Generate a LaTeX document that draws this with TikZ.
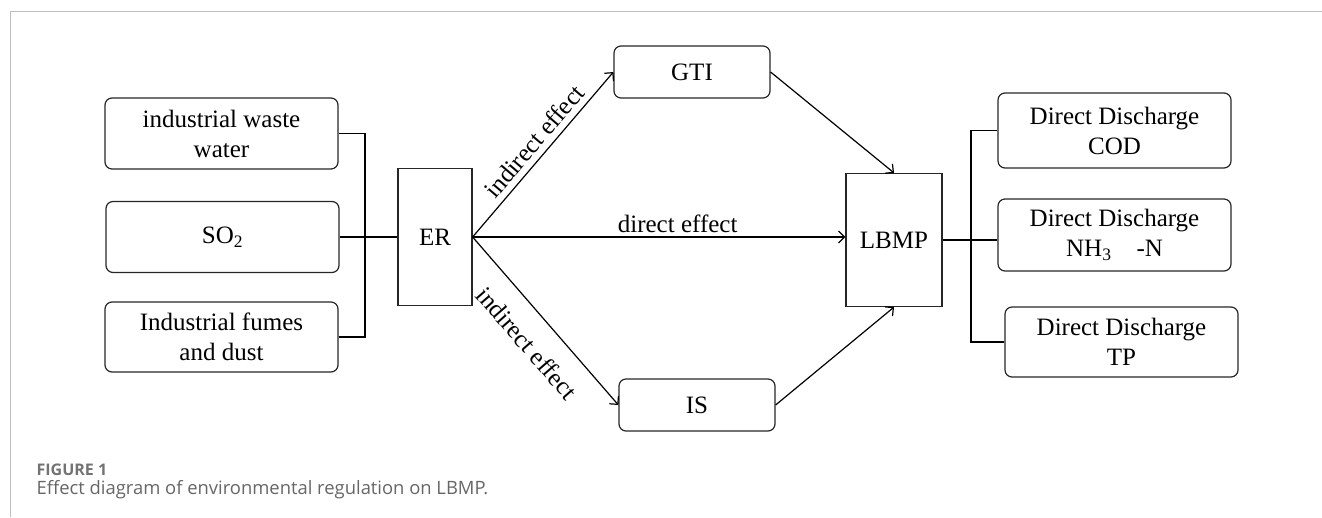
\documentclass[tikz,border=0pt]{standalone}
\usepackage{fontspec}
\setmainfont{Liberation Serif}
\newfontfamily\capfont{Open Sans}
\usetikzlibrary{positioning,arrows.meta}

\begin{document}
\begin{tikzpicture}[x=1pt, y=-1pt, line width=1.2pt, >={Straight Barb[length=6pt,width=12pt]},
		b/.style={draw=black!85, rounded corners=7pt, align=center, inner sep=0pt, font=\fontsize{25}{30}\selectfont},
		r/.style={draw=black!85, align=center, inner sep=0pt, font=\fontsize{25}{30}\selectfont},
		lab/.style={font=\fontsize{25}{30}\selectfont, inner sep=4pt}]
		\useasboundingbox (0,0) rectangle (1322,517);
		\draw[black!25, line width=1pt] (10,517) -- (10,11.5) -- (1322,11.5);

		% inputs
		\node[b, minimum width=233pt, minimum height=71pt] (ww) at (221.5,133.5) {industrial waste\\water};
		\node[b, minimum width=233pt, minimum height=71pt] (so) at (222.5,237) {SO\textsubscript{2}};
		\node[b, minimum width=233pt, minimum height=70pt] (fd) at (221.5,337) {Industrial fumes\\and dust};
		\node[r, minimum width=74pt, minimum height=137pt] (ER) at (435,237) {ER};

		% mediators
		\node[b, minimum width=156pt, minimum height=52pt] (GTI) at (692,72) {GTI};
		\node[b, minimum width=156pt, minimum height=52pt] (IS) at (697,405) {IS};
		\node[r, minimum width=96pt, minimum height=133pt] (LBMP) at (894,240) {LBMP};

		% outputs
		\node[b, minimum width=233pt, minimum height=75pt] (cod) at (1114.5,130.5) {Direct Discharge\\COD};
		\node[b, minimum width=233pt, minimum height=72pt] (nh) at (1114.5,235) {Direct Discharge\\NH\textsubscript{3}\quad-N};
		\node[b, minimum width=233pt, minimum height=70pt] (tp) at (1121.5,342) {Direct Discharge\\TP};

		\coordinate (lbus) at (365,0);
		\coordinate (rbus) at (971,0);
		\draw (ww.east) -- (ww.east -| lbus) -- (fd.east -| lbus) -- (fd.east);
		\draw (so.east) -- (ER.west);
		\draw (cod.west) -- (cod.west -| rbus) -- (tp.west -| rbus) -- (tp.west);
		\draw (LBMP.east) -- (LBMP.east -| nh.west);

		\draw[->] (ER.east) -- node[lab, pos=0.52, above, sloped, inner sep=6pt] {indirect effect} (GTI.west);
		\draw[->] (ER.east) -- node[lab, pos=0.52, below, sloped, inner sep=19pt] {indirect effect} (IS.west);
		\draw[->] (ER.east) -- node[lab, pos=0.55, above] {direct effect} (ER.east -| LBMP.west);
		\draw[->] (GTI.east) -- (LBMP.north);
		\draw[->] (IS.east) -- (LBMP.south);

		% caption
		\node[anchor=base west, inner sep=0pt, text=black!55, font=\capfont\bfseries\fontsize{16}{19}\selectfont] (fig) at (36,475) {FIGURE 1};
		\node[anchor=base west, inner sep=0pt, text=black!60, font=\capfont\fontsize{18.4}{22}\selectfont] (cap) at (36,494) {Effect diagram of environmental regulation on LBMP.};
	\end{tikzpicture}
\end{document}
